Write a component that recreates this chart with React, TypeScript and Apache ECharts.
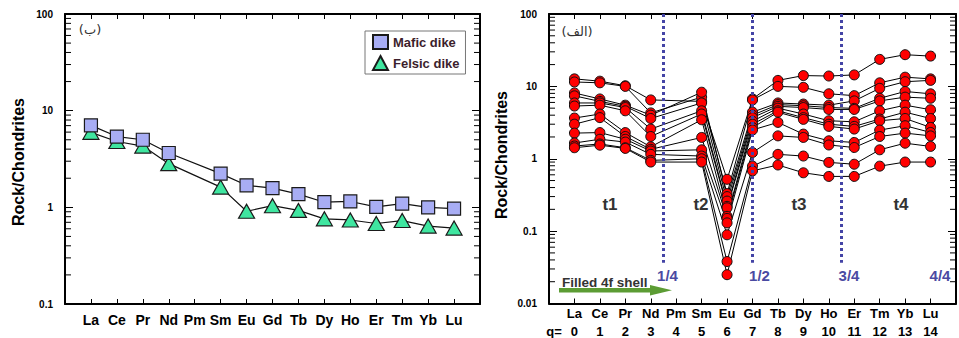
import React, { useEffect, useRef } from "react";
import * as echarts from "echarts";

const elements = ["La", "Ce", "Pr", "Nd", "Pm", "Sm", "Eu", "Gd", "Tb", "Dy", "Ho", "Er", "Tm", "Yb", "Lu"];

// Left panel (ب)
const mafic = [7.05, 5.4, 5.0, 3.65, null, 2.23, 1.69, 1.58, 1.37, 1.13, 1.15, 1.01, 1.09, 1.0, 0.97];
const felsic = [5.97, 4.8, 4.3, 2.83, null, 1.62, 0.91, 1.04, 0.93, 0.76, 0.74, 0.68, 0.73, 0.64, 0.61];

// Right panel (الف) – samples
const s1 = [12.7, 11.8, 10.2, 6.5, null, 6.2, 0.52, 6.7, 12.1, 14.1, 13.9, 14.4, 23.6, 27.4, 26.2];
const s2 = [11.5, 11.2, 10.0, 4.3, null, 7.1, 0.33, 6.5, 10.0, 9.7, 7.9, 7.45, 11.2, 13.4, 12.7];
const s3 = [8.1, 6.7, 5.5, 4.0, null, 8.3, 0.3, 4.4, 5.9, 5.7, 5.5, 6.3, 9.4, 11.6, 12.1];
const s4 = [7.4, 6.2, 5.3, 3.6, null, 5.9, 0.26, 4.0, 5.6, 5.4, 5.1, 4.97, 6.85, 8.5, 7.9];
const s5 = [5.9, 5.9, 5.1, 2.57, null, 4.6, 0.22, 3.7, 5.3, 5.1, 4.8, 4.8, 6.3, 7.1, 6.85];
const s6 = [5.35, 5.5, 4.6, 2.03, null, 4.15, 0.21, 3.3, 5.0, 4.15, 3.35, 3.24, 4.6, 5.5, 4.76];
const s7 = [3.65, 4.15, 2.3, 1.46, null, 3.46, 0.16, 3.0, 4.6, 3.7, 3.0, 2.8, 3.54, 4.4, 3.6];
const s8 = [3.0, 3.7, 2.03, 1.35, null, 1.97, 0.15, 2.7, 4.4, 3.5, 2.8, 2.57, 3.35, 3.6, 2.71];
const s9 = [2.26, 2.3, 1.86, 1.28, null, 1.33, 0.13, 2.5, 3.18, 2.19, 1.77, 1.68, 2.49, 2.86, 2.31];
const s10 = [1.65, 1.86, 1.7, 1.15, null, 1.09, 0.089, 1.22, 2.07, 1.97, 1.55, 1.43, 2.03, 2.26, 2.07];
const s11 = [1.5, 1.6, 1.42, 0.95, null, 1.0, 0.038, 0.79, 1.15, 1.09, 0.89, 0.84, 1.33, 1.64, 1.48];
const s12 = [1.42, 1.54, 1.39, 0.9, null, 0.9, 0.025, 0.68, 0.82, 0.64, 0.57, 0.57, 0.79, 0.9, 0.9];
const samples = [s1, s2, s3, s4, s5, s6, s7, s8, s9, s10, s11, s12];

// 4f-shell boundaries (x positions on q scale) and labels
const shellLines = [3.5, 7, 10.5];
const shellLabels = ["1/4", "1/2", "3/4", "4/4"];
const tetradLabels = ["t1", "t2", "t3", "t4"];

// log minor tick mantissas
const mantissas = [2, 3, 4, 5, 6, 7, 8, 9];

const FONT = "'Liberation Sans', Arial, sans-serif";

function toPairs(arr: (number | null)[]) {
  const out: number[][] = [];
  arr.forEach((v, i) => {
    if (v != null) out.push([i, v]);
  });
  return out;
}

function minorTicks(minExp: number, maxExp: number) {
  const out: number[][] = [];
  for (let e = minExp; e < maxExp; e++) {
    mantissas.forEach((m) => out.push([-1, m * Math.pow(10, e)]));
  }
  return out;
}

export default function App() {
  const ref = useRef<HTMLDivElement>(null);

  useEffect(() => {
    if (!ref.current) return;
    const chart = echarts.init(ref.current, undefined, { renderer: "svg" });

    const axisLine = { show: true, onZero: false, lineStyle: { color: "#000", width: 2 } };
    const xBottom = (grid: number, rich: boolean) => ({
      type: "value",
      gridIndex: grid,
      min: -1,
      max: 15,
      interval: 1,
      position: "bottom",
      axisLine,
      axisTick: { show: true, inside: true, length: 5, lineStyle: { color: "#000", width: 1 } },
      splitLine: { show: false },
      axisLabel: rich
        ? {
            margin: 1,
            formatter: (v: number) => (elements[v] ? `{e|${elements[v]}}\n{q|${v}}` : ""),
            rich: {
              e: { fontFamily: FONT, fontWeight: "bold", fontSize: 13, color: "#000", lineHeight: 18 },
              q: { fontFamily: FONT, fontWeight: "bold", fontSize: 13, color: "#000", lineHeight: 18 },
            },
          }
        : {
            margin: 9,
            fontFamily: FONT,
            fontWeight: "bold",
            fontSize: 14,
            color: "#000",
            formatter: (v: number) => elements[v] ?? "",
          },
    });
    const xTop = (grid: number) => ({
      type: "value",
      gridIndex: grid,
      min: -1,
      max: 15,
      interval: 1,
      position: "top",
      axisLine,
      axisTick: { show: true, inside: true, length: 5, lineStyle: { color: "#000", width: 1 } },
      splitLine: { show: false },
      axisLabel: { show: false },
    });
    const yLeft = (grid: number, min: number, max: number) => ({
      type: "log",
      logBase: 10,
      gridIndex: grid,
      min,
      max,
      position: "left",
      axisLine,
      axisTick: { show: true, inside: true, length: 8, lineStyle: { color: "#000", width: 1 } },
      splitLine: { show: false },
      axisLabel: {
        margin: 12,
        fontFamily: FONT,
        fontWeight: "bold",
        fontSize: 10,
        color: "#000",
        formatter: (v: number) => String(+v.toPrecision(6)),
      },
    });
    const yRight = (grid: number, min: number, max: number) => ({
      type: "log",
      logBase: 10,
      gridIndex: grid,
      min,
      max,
      position: "right",
      axisLine,
      axisTick: { show: true, inside: true, length: 8, lineStyle: { color: "#000", width: 1 } },
      splitLine: { show: false },
      axisLabel: { show: false },
    });

    const minorSeries = (xi: number, yi: number, data: number[][]) => ({
      type: "custom",
      xAxisIndex: xi,
      yAxisIndex: yi,
      silent: true,
      z: 1,
      data,
      encode: { x: 0, y: 1 },
      renderItem: (_p: any, api: any) => {
        const v = api.value(1);
        const a = api.coord([-1, v]);
        const b = api.coord([15, v]);
        return {
          type: "group",
          children: [
            { type: "line", shape: { x1: a[0], y1: a[1], x2: a[0] + 6, y2: a[1] }, style: { stroke: "#000", lineWidth: 1 } },
            { type: "line", shape: { x1: b[0], y1: b[1], x2: b[0] - 6, y2: b[1] }, style: { stroke: "#000", lineWidth: 1 } },
          ],
        };
      },
    });

    const series: any[] = [];
    // left panel
    series.push(minorSeries(0, 0, minorTicks(-1, 2)));
    [felsic, mafic].forEach((arr, k) => {
      series.push({
        type: "line",
        name: k === 0 ? "felsic-line" : "mafic-line",
        xAxisIndex: 0,
        yAxisIndex: 0,
        data: toPairs(arr),
        showSymbol: false,
        symbol: "none",
        lineStyle: { color: "#111", width: 1.2 },
        z: 2,
        silent: true,
      });
    });
    series.push({
      type: "scatter",
      name: "Felsic dike",
      xAxisIndex: 0,
      yAxisIndex: 0,
      data: toPairs(felsic),
      symbol: "triangle",
      symbolSize: [16, 14],
      itemStyle: { color: "#3fe6a0", borderColor: "#1a1a1a", borderWidth: 1.2, opacity: 1 },
      z: 3,
    });
    series.push({
      type: "scatter",
      name: "Mafic dike",
      xAxisIndex: 0,
      yAxisIndex: 0,
      data: toPairs(mafic),
      symbol: "rect",
      symbolSize: 13,
      itemStyle: { color: "#a8adf4", borderColor: "#1a1a1a", borderWidth: 1.2, opacity: 1 },
      z: 4,
    });

    // right panel
    series.push(minorSeries(2, 2, minorTicks(-2, 2)));
    samples.forEach((arr, k) => {
      series.push({
        type: "line",
        name: "line" + k,
        xAxisIndex: 2,
        yAxisIndex: 2,
        data: toPairs(arr),
        showSymbol: false,
        symbol: "none",
        lineStyle: { color: "#000", width: 1 },
        z: 2,
        silent: true,
        markLine:
          k === 0
            ? {
                silent: true,
                symbol: "none",
                label: { show: false },
                lineStyle: { color: "#4444a6", width: 3, type: [3, 3] },
                data: shellLines.map((x) => [{ coord: [x, 100] }, { coord: [x, 0.0365] }]),
              }
            : undefined,
      });
    });
    samples.forEach((arr, k) => {
      series.push({
        type: "scatter",
        name: "pts" + k,
        xAxisIndex: 2,
        yAxisIndex: 2,
        data: toPairs(arr),
        symbol: "circle",
        symbolSize: 10,
        itemStyle: { color: "#ff0000", borderColor: "#111", borderWidth: 1, opacity: 1 },
        z: 3,
      });
    });

    const txt = (x: number, y: number, text: string, style: any) => ({
      type: "text",
      x,
      y,
      silent: true,
      style: { text, fontFamily: FONT, fontWeight: "bold", fill: "#000", align: "center", verticalAlign: "middle", ...style },
    });

    const shellX = [667.5, 759.5, 849, 940];
    const tetradX = [610, 701, 799, 901];

    const graphic: any[] = [
      { ...txt(18, 162, "Rock/Chondrites", { fontSize: 16 }), rotation: Math.PI / 2 },
      { ...txt(501, 155, "Rock/Chondrites", { fontSize: 16 }), rotation: Math.PI / 2 },
      txt(90, 29, "(ب)", { fontSize: 13, fontWeight: "normal", fill: "#333", fontFamily: "'DejaVu Sans', sans-serif" }),
      txt(577, 31, "(الف)", { fontSize: 13, fontWeight: "normal", fill: "#333", fontFamily: "'DejaVu Sans', sans-serif" }),
      txt(554, 331, "q=", { fontSize: 13 }),
      txt(562, 282.5, "Filled 4f shell", { fontSize: 13.5, align: "left", fill: "#333" }),
      {
        type: "polygon",
        silent: true,
        shape: {
          points: [
            [559, 288],
            [650, 288],
            [650, 285],
            [672, 290.3],
            [650, 295.6],
            [650, 292.6],
            [559, 292.6],
          ],
        },
        style: { fill: "#5c9c34" },
      },
      ...shellLabels.map((t, i) => txt(shellX[i], 275, t, { fontSize: 15, fill: "#4a4aa2" })),
      ...tetradLabels.map((t, i) => txt(tetradX[i], 204, t, { fontSize: 17, fill: "#333" })),
    ];

    chart.setOption({
      animation: false,
      backgroundColor: "#fff",
      grid: [
        { left: 65, top: 14, width: 415, height: 290 },
        { left: 549, top: 14, width: 415, height: 290 },
      ],
      xAxis: [xBottom(0, false), xTop(0), xBottom(1, true), xTop(1)],
      yAxis: [yLeft(0, 0.1, 100), yRight(0, 0.1, 100), yLeft(1, 0.01, 100), yRight(1, 0.01, 100)],
      legend: {
        data: ["Mafic dike", "Felsic dike"],
        orient: "vertical",
        left: 365,
        top: 31,
        itemWidth: 15,
        itemHeight: 14,
        itemGap: 5,
        itemTextGap: 6,
        padding: [3, 6, 3, 7],
        borderColor: "#777",
        borderWidth: 1,
        backgroundColor: "#fff",
        selectedMode: false,
        textStyle: { fontFamily: FONT, fontWeight: "bold", fontSize: 13, color: "#3c1e2c" },
      },
      graphic,
      series,
    });

    return () => chart.dispose();
  }, []);

  return <div ref={ref} style={{ position: "absolute", left: 0, top: 0, width: 959, height: 338 }} />;
}
